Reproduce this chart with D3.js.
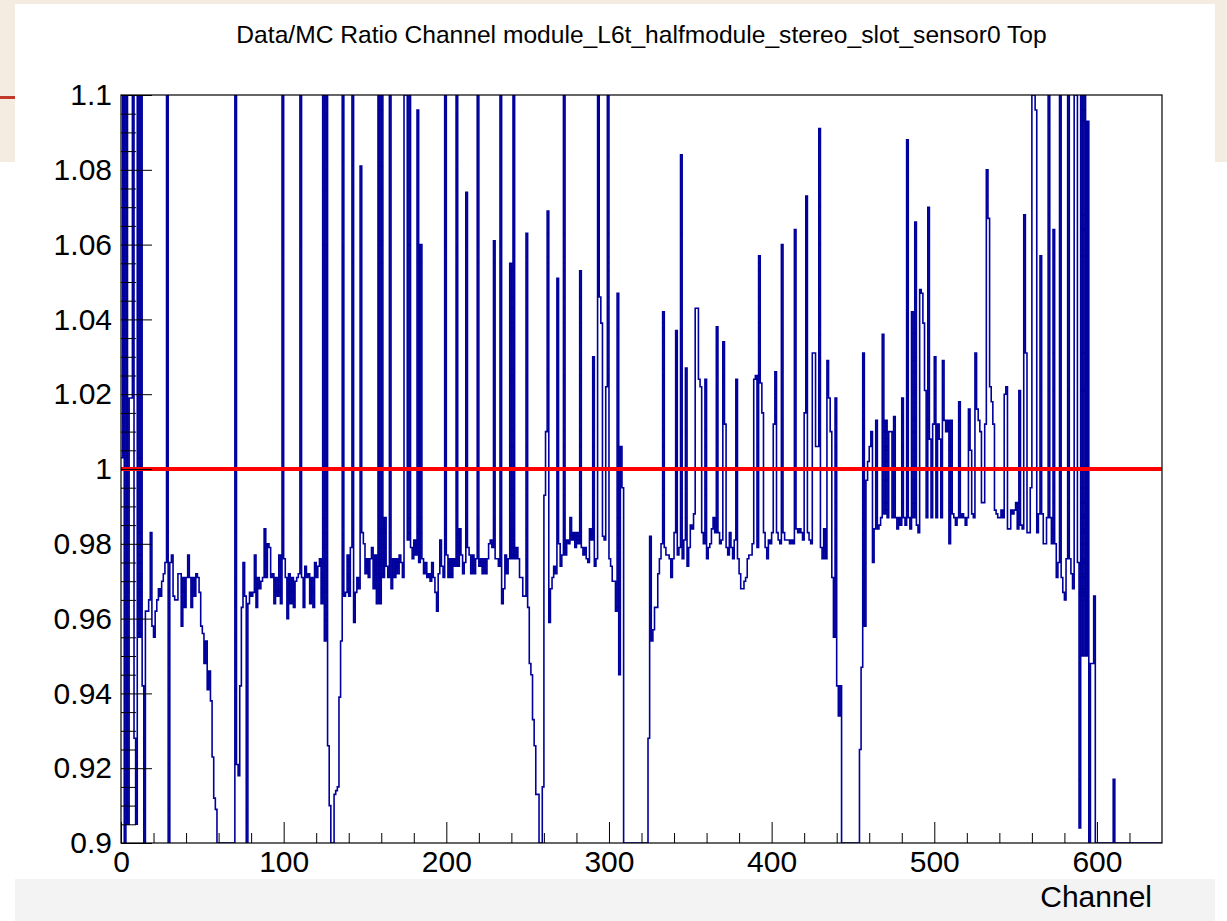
<!DOCTYPE html>
<html>
<head>
<meta charset="utf-8">
<script src="https://cdn.jsdelivr.net/npm/d3@7"></script>
<style>
  html, body { margin: 0; padding: 0; background: #ffffff; }
  svg { display: block; }
  text { font-family: "Liberation Sans", Arial, Helvetica, sans-serif; }
</style>
</head>
<body>
<svg id="chart" width="1227" height="921"></svg>
<script>
// ---------------- DATA ----------------
const title = "Data/MC Ratio Channel module_L6t_halfmodule_stereo_slot_sensor0 Top";
const xAxisTitle = "Channel";
const nChannels = 640;
const xDomain = [0, 640];
const yDomain = [0.9, 1.1];
const referenceValue = 1.0;

// ratio per channel (bin i spans [i, i+1]); values above 1.1 / below 0.9 are off-scale
const ratio = [
  1.003,1.2,0,1.2,0.905,1.019,1.019,1.2,0.928,0.905,
  1.2,0.955,1.2,0.942,0,0.962,0.962,0.965,0.983,0.958,
  0.955,0.962,0.965,0.968,0.966,0.970,0.972,0.975,1.2,0,
  0.975,0.977,0.966,0.965,0.965,0.972,0.972,0.958,0.971,0.963,
  0.971,0.977,0.971,0.963,0.971,0.966,0.972,0.971,0.967,0.958,
  0.956,0.948,0.954,0.941,0.946,0.938,0.923,0.912,0.909,0,
  0,0,0,0,0,0,0,0,0,0,
  1.2,0.921,0.918,0.942,0.963,0.975,0.966,0,0.964,0.967,
  0.966,0.967,0.977,0.963,0.971,0.968,0.970,0.971,0.984,0.971,
  0.980,0.979,0.971,0.972,0.964,0.971,0.966,0.977,0.964,1.2,
  0.976,0.971,0.960,0.972,0.964,0.971,0.963,0.970,0.971,0.972,
  1.2,0.971,0.963,0.974,0.971,0.972,0.964,0.971,0.963,0.975,
  0.971,0.974,0.976,0.964,1.2,0.954,1.2,0.926,0.910,0,
  0,0.913,0.914,0.915,0.939,0.954,1.2,0.966,0.967,0.977,
  0.966,0.979,1.2,0.959,0.967,0.971,0.968,1.081,0.983,0.980,
  0.972,0.976,0.971,0.976,0.979,0.968,0.977,0.964,1.2,0.964,
  1.2,0.971,0.987,0.974,0.971,1.2,0.968,0.976,0.971,0.976,
  0.972,0.977,0.975,0.971,1.2,1.2,0.981,1.2,0.979,0.976,
  0.981,0.977,1.096,0.975,1.060,0.976,0.972,0.975,0.971,0.972,
  0.970,0.975,0.971,0.967,0.962,0.972,0.981,0.974,0.971,1.2,
  0.977,0.971,0.976,0.971,0.976,0.974,1.2,0.974,0.984,0.977,
  0.972,0.975,1.074,0.979,0.977,0.972,0.977,0.972,0.976,1.2,
  0.974,0.976,0.972,0.976,0.972,0.976,0.980,0.981,0.979,1.061,
  0.976,0.976,0.974,1.2,0.964,0.968,0.977,0.972,0.976,1.055,
  0.976,1.2,0.976,0.979,0.976,0.971,0.971,0.966,0.966,1.063,
  0.963,0.948,0.945,0.933,0.926,0.913,0.913,0,0,0.915,
  0.993,1.010,1.069,0.959,0.968,0.971,0.974,0.972,1.051,0.980,
  0.974,0.977,1.2,0.977,0.981,0.980,0.987,0.981,0.983,0.979,
  0.983,0.980,1.053,0.979,0.977,0.979,0.976,0.975,0.984,0.981,
  1.030,0.974,0.976,1.2,1.046,1.039,0.982,0.981,1.022,1.2,
  0.976,0.974,0.970,0.970,0.962,1.047,0.945,1.006,0.995,0,
  0,0,0,0,0,0,0,0,0,0,
  0,0,0,0,0.928,0.982,0.954,0.957,0.963,0.963,
  0.972,0.976,0.980,1.042,0.979,0.977,0.977,0.976,0.971,0.976,
  0.983,1.037,0.977,0.979,1.084,0.976,0.981,1.027,0.974,0.979,
  0.985,0.984,0.988,1.043,1.043,1.024,1.022,0.983,0.980,1.024,
  0.976,0.979,0.980,0.984,0.987,0.983,1.038,0.983,0.980,0.981,
  1.034,1.012,0.979,0.977,0.983,0.979,0.976,0.981,1.024,0.976,
  0.972,0.968,0.968,0.970,0.971,0.976,0.977,0.977,0.980,1.024,
  1.025,0.979,1.057,1.023,1.015,0.983,0.979,0.976,0.981,0.980,
  0.983,1.012,1.026,0.983,0.981,0.980,1.060,0.983,0.981,0.981,
  0.981,0.980,0.981,0.980,1.064,0.984,0.983,0.984,0.983,0.981,
  1.015,1.073,0.983,0.981,0.980,1.031,1.031,1.006,1.006,1.091,
  0.979,0.976,0.984,0.976,1.029,1.019,1.010,0.971,0.955,1.019,
  0.942,0.934,0.942,0,0,0,0,0,0,0,
  0,0,0,0,0.925,0.947,1.031,0.958,0.997,1.002,
  1.006,1.010,0.975,0.984,1.013,0.984,0.985,0.987,1.036,0.988,
  1.013,0.987,1.010,1.010,0.987,1.014,0.987,0.984,0.987,0.985,
  1.019,0.987,0.985,1.088,0.987,0.984,1.042,0.987,1.066,0.985,
  0.983,1.048,1.047,1.039,1.021,0.987,1.070,1.008,0.987,1.012,
  1.030,0.987,1.012,1.008,0.987,1.029,1.013,1.010,1.013,0.980,
  1.013,0.988,0.987,0.985,0.987,1.018,0.987,0.988,0.987,0.985,
  0.987,1.016,1.005,0.988,0.987,1.031,1.016,1.013,1.010,0.991,
  0.991,1.012,1.080,1.067,1.022,1.018,1.012,0.989,0.988,0.987,
  0.987,0.989,0.987,1.020,1.022,0.984,0.984,0.989,0.988,0.989,
  0.991,0.984,1.021,0.985,0.984,1.068,1.031,0.983,0.983,0.995,
  1.2,1.2,1.096,0.983,0.988,1.057,0.988,0.980,0.980,0.987,
  1.2,0.987,0.980,1.064,0.980,0.971,0.975,1.2,0.971,0.967,
  0.965,0.976,1.2,0.976,0.972,0.968,1.2,1.2,0.975,0.904,
  1.2,0.950,1.2,0.950,1.093,0,0.948,0.948,0.966,0,
  0,0,0,0,0,0,0,0,0,0,
  0.917,0,0,0,0,0,0,0,0,0,
  0,0,0,0,0,0,0,0,0,0,
  0,0,0,0,0,0,0,0,0,0
];

const xTickValues = [0, 100, 200, 300, 400, 500, 600];
const xTickLabels = ["0", "100", "200", "300", "400", "500", "600"];
const xMinorTickValues = [20,40,60,80,120,140,160,180,220,240,260,280,320,340,360,380,420,440,460,480,520,540,560,580,620];
const yTickValues = [0.9, 0.92, 0.94, 0.96, 0.98, 1.0, 1.02, 1.04, 1.06, 1.08, 1.1];
const yTickLabels = ["0.9", "0.92", "0.94", "0.96", "0.98", "1", "1.02", "1.04", "1.06", "1.08", "1.1"];
const yMinorTickValues = [
  0.905,0.91,0.915,0.925,0.93,0.935,0.945,0.95,0.955,0.965,0.97,0.975,
  0.985,0.99,0.995,1.005,1.01,1.015,1.025,1.03,1.035,1.045,1.05,1.055,
  1.065,1.07,1.075,1.085,1.09,1.095
];

// ---------------- LAYOUT ----------------
const frame = { left: 121, right: 1162, top: 95, bottom: 843 };
const svg = d3.select("#chart");

// slide background remnants around the canvas
svg.append("rect").attr("x", 0).attr("y", 0).attr("width", 1227).attr("height", 921).attr("fill", "#ffffff");
svg.append("rect").attr("x", 0).attr("y", 0).attr("width", 1227).attr("height", 4).attr("fill", "#f4ece1");
svg.append("rect").attr("x", 0).attr("y", 0).attr("width", 15).attr("height", 162).attr("fill", "#f4ece1");
svg.append("rect").attr("x", 1215).attr("y", 0).attr("width", 12).attr("height", 162).attr("fill", "#f4ece1");
svg.append("rect").attr("x", 0).attr("y", 96).attr("width", 15).attr("height", 3).attr("fill", "#c0392b");
svg.append("rect").attr("x", 15).attr("y", 879).attr("width", 1200).attr("height", 42).attr("fill", "#f3f3f3");

const x = d3.scaleLinear().domain(xDomain).range([frame.left, frame.right]);
const y = d3.scaleLinear().domain(yDomain).range([frame.bottom, frame.top]);

// clip
svg.append("defs").append("clipPath").attr("id", "frameClip")
  .append("rect")
  .attr("x", frame.left).attr("y", frame.top)
  .attr("width", frame.right - frame.left).attr("height", frame.bottom - frame.top);

// histogram step outline
const clampV = v => Math.max(yDomain[0], Math.min(yDomain[1], v));
const pts = [];
ratio.forEach((v, i) => {
  const yy = y(clampV(v));
  pts.push([x(i), yy]);
  pts.push([x(i + 1), yy]);
});
svg.append("path")
  .attr("clip-path", "url(#frameClip)")
  .attr("d", d3.line()(pts))
  .attr("fill", "none")
  .attr("stroke", "#00009c")
  .attr("stroke-width", 1.6)
  .attr("stroke-linejoin", "miter");

// reference line at 1
svg.append("line")
  .attr("x1", x(xDomain[0])).attr("x2", x(xDomain[1]))
  .attr("y1", y(referenceValue)).attr("y2", y(referenceValue))
  .attr("stroke", "#ff0000").attr("stroke-width", 4);

// frame
svg.append("rect")
  .attr("x", frame.left).attr("y", frame.top)
  .attr("width", frame.right - frame.left).attr("height", frame.bottom - frame.top)
  .attr("fill", "none").attr("stroke", "#000").attr("stroke-width", 1.2);

// y axis
const yAxis = d3.axisLeft(y)
  .tickValues(yTickValues)
  .tickFormat((d, i) => yTickLabels[i])
  .tickSizeInner(-31).tickSizeOuter(0).tickPadding(9);
const yg = svg.append("g").attr("transform", `translate(${frame.left},0)`).call(yAxis);
yg.select(".domain").remove();
yg.selectAll("text").attr("font-size", 30).attr("fill", "#000")
  .attr("font-family", "'Liberation Sans', Arial, sans-serif");
yg.selectAll("line").attr("stroke", "#000");

const yMinor = d3.axisLeft(y).tickValues(yMinorTickValues).tickFormat("")
  .tickSizeInner(-15).tickSizeOuter(0);
const ymg = svg.append("g").attr("transform", `translate(${frame.left},0)`).call(yMinor);
ymg.select(".domain").remove();
ymg.selectAll("line").attr("stroke", "#000");

// x axis
const xAxis = d3.axisBottom(x)
  .tickValues(xTickValues)
  .tickFormat((d, i) => xTickLabels[i])
  .tickSizeInner(-21).tickSizeOuter(0).tickPadding(8);
const xg = svg.append("g").attr("transform", `translate(0,${frame.bottom})`).call(xAxis);
xg.select(".domain").remove();
xg.selectAll("text").attr("font-size", 30).attr("fill", "#000")
  .attr("font-family", "'Liberation Sans', Arial, sans-serif");
xg.selectAll("line").attr("stroke", "#000");

const xMinor = d3.axisBottom(x).tickValues(xMinorTickValues).tickFormat("")
  .tickSizeInner(-10).tickSizeOuter(0);
const xmg = svg.append("g").attr("transform", `translate(0,${frame.bottom})`).call(xMinor);
xmg.select(".domain").remove();
xmg.selectAll("line").attr("stroke", "#000");

// axis title
svg.append("text")
  .attr("x", 1152).attr("y", 907)
  .attr("text-anchor", "end")
  .attr("font-size", 30).attr("fill", "#000")
  .text(xAxisTitle);

// chart title
svg.append("text")
  .attr("x", 641.5).attr("y", 43)
  .attr("text-anchor", "middle")
  .attr("font-size", 24.6).attr("fill", "#000")
  .text(title);
</script>
</body>
</html>
